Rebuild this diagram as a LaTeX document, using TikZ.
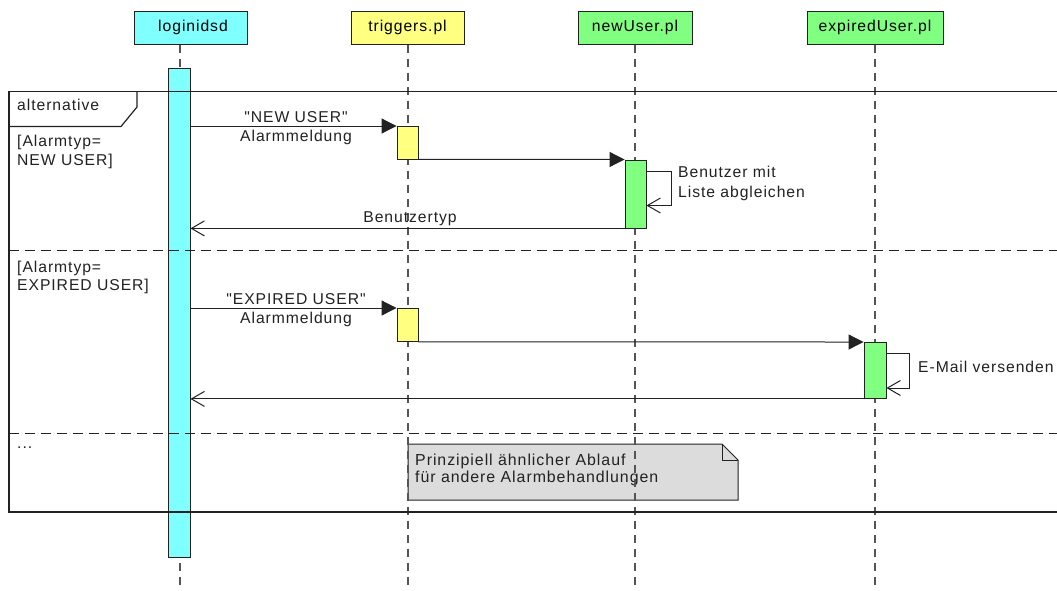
\documentclass[tikz,border=0pt]{standalone}
\usepackage{fontspec}
\setmainfont{Liberation Sans}[LetterSpace=6]
\newfontfamily\labelfont{Liberation Sans}[LetterSpace=6]
\usetikzlibrary{arrows.meta}

\definecolor{cyanfill}{HTML}{80FFFF}
\definecolor{yellowfill}{HTML}{FFFF80}
\definecolor{greenfill}{HTML}{80FF80}
\definecolor{notefill}{HTML}{DCDCDC}
\definecolor{ink}{HTML}{222222}
\definecolor{lifegray}{HTML}{555555}

\tikzset{
  txt/.style={inner sep=0pt, text=ink, font=\labelfont\fontsize{15.7}{18.5}\selectfont, align=left},
  head/.style={draw=ink, line width=1pt, minimum height=33pt, inner sep=0pt,
    font=\labelfont\fontsize{15.7}{18}\selectfont, text=black},
  act/.style={draw=ink, line width=0.9pt, minimum width=21pt, inner sep=0pt, anchor=north},
  lifeline/.style={draw=lifegray, line width=1.2pt, dash pattern=on 8pt off 6pt},
  sep/.style={draw=ink, line width=1pt, dash pattern=on 10pt off 6pt},
  frameline/.style={draw=ink, line width=1.2pt},
  msg/.style={draw=ink, line width=1pt, -{Triangle[length=15pt,width=15pt]}},
  ret/.style={draw=ink, line width=1pt, -{Straight Barb[length=13pt,width=15pt,line width=1pt]}},
}

\begin{document}
\begin{tikzpicture}[x=1pt,y=-1pt]
\useasboundingbox (0,0) rectangle (1057,590);
\fill[white] (0,0) rectangle (1057,590);

% participants
\node[head, fill=cyanfill,   minimum width=113pt] (hLogin) at (190.5,27.5) {\hspace*{5pt}loginidsd};
\node[head, fill=yellowfill, minimum width=113pt] (hTrig)  at (407.5,27.5) {triggers.pl};
\node[head, fill=greenfill,  minimum width=114pt] (hNew)   at (635,27.5)   {newUser.pl};
\node[head, fill=greenfill,  minimum width=136pt] (hExp)   at (875,27.5)   {expiredUser.pl};

% note
\node[inner sep=0pt] (noteNW) at (408,444) {};
\coordinate (noteSE) at (738,500);
\filldraw[fill=notefill, draw=ink, line width=1pt]
  (noteNW.center) -- (722,444) -- (738,460) -- (noteSE) -- (408,500) -- cycle;
\draw[ink, line width=1pt] (722,444) -- (722,460) -- (738,460);
\node[txt, anchor=west, align=left, font=\labelfont\fontsize{15.9}{17.5}\selectfont] (noteText) at (415,470)
  {Prinzipiell ähnlicher Ablauf\\für andere Alarmbehandlungen};

% lifelines
\coordinate (endLogin) at (180,590);
\coordinate (endTrig)  at (408,590);
\coordinate (endNew)   at (635,590);
\coordinate (endExp)   at (875,590);
\draw[lifeline] (hLogin.south -| endLogin) -- (endLogin);
\draw[lifeline] (hTrig.south -| endTrig) -- (endTrig);
\draw[lifeline] (hNew.south -| endNew) -- (endNew);
\draw[lifeline] (hExp.south -| endExp) -- (endExp);

% activations
\node[act, fill=cyanfill,   minimum height=489pt, minimum width=22pt] (aLogin) at (179,68) {};
\node[act, fill=yellowfill, minimum height=33pt] (aTrig1) at (407.5,125.5) {};
\node[act, fill=greenfill,  minimum height=68pt] (aNew)   at (635.5,159.5) {};
\node[act, fill=yellowfill, minimum height=33pt] (aTrig2) at (407.5,308) {};
\node[act, fill=greenfill,  minimum height=56pt, minimum width=22pt] (aExp) at (875,342) {};

% combined fragment
\coordinate (fTL) at (9,91.5);
\coordinate (fBL) at (9,512);
\draw[frameline] (1057,91.5) -- (fTL) -- (fBL) -- (1057,512);
\draw[frameline] (137,91.5) -- (137,107) -- (121,126.5) -- (9,126.5);
\draw[sep] (9,250) -- (1057,250);
\draw[sep] (9,433) -- (1057,433);
\node[txt, anchor=west] (opAlt) at (17,105) {alternative};
\node[txt, anchor=north west] (g1) at (17,135) {[Alarmtyp=\\NEW USER]};
\node[txt, anchor=north west] (g2) at (17,260.5) {[Alarmtyp=\\EXPIRED USER]};
\node[txt, anchor=west] (gRest) at (17,448) {...};

% first alternative
\draw[msg] ([yshift=-0.5pt]aLogin.east |- aTrig1.north) -- ([yshift=-0.5pt]aTrig1.north west);
\node[txt] (m1a) at (296,117.5) {"NEW USER"};
\node[txt] (m1b) at (296,137) {Alarmmeldung};
\draw[msg] (aTrig1.south east) -- (aNew.north west);
\draw[ret] ([yshift=-11.5pt]aNew.north east) -- ++(25,0) -- ++(0,34.5) -- ([yshift=-46pt]aNew.north east);
\node[txt, anchor=north west, font=\labelfont\fontsize{15.7}{20.5}\selectfont] (selfNew) at (678,165.5) {Benutzer mit\\Liste abgleichen};
\draw[ret] (aNew.south west) -- (aNew.south west -| aLogin.east);
\node[txt] (m3) at (410,219) {Benutzertyp};

% second alternative
\draw[msg] (aLogin.east |- aTrig2.north) -- (aTrig2.north west);
\node[txt] (m4a) at (296,299.5) {"EXPIRED USER"};
\node[txt] (m4b) at (296,319) {Alarmmeldung};
\draw[msg] (aTrig2.south east) -- (aExp.north west);
\draw[ret] ([yshift=-11pt]aExp.north east) -- ++(23,0) -- ++(0,35) -- ([yshift=-46pt]aExp.north east);
\node[txt, anchor=west] (selfExp) at (918,367) {E-Mail versenden};
\draw[ret] (aExp.south west) -- (aExp.south west -| aLogin.east);
\end{tikzpicture}
\end{document}
